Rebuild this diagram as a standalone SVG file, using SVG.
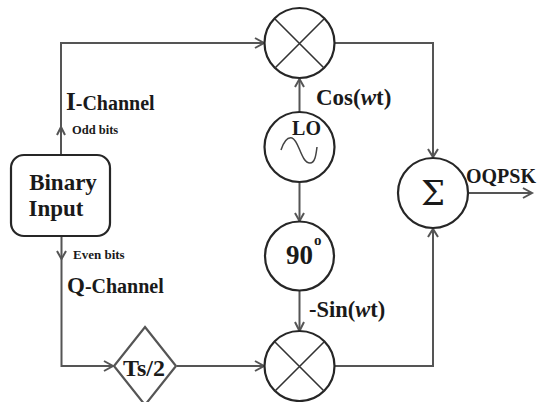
<svg xmlns="http://www.w3.org/2000/svg" width="542" height="402" viewBox="0 0 542 402">
<style>
.n{fill:#fff;stroke:#262626;stroke-width:2.2}
.x{fill:none;stroke:#333;stroke-width:1.6}
.c{fill:none;stroke:#555;stroke-width:2}
.h{fill:none;stroke:#555;stroke-width:2}
text{font-family:"Liberation Serif","Times New Roman",serif;font-weight:bold;fill:#1a1a1a}
</style>
<rect width="542" height="402" fill="#fff"/>
<g id="connectors">
<path class="c" d="M61 154V43H263"/><path class="h" d="M57 135L61 127L65 135M255 38L264 43L255 48"/>
<path class="c" d="M61.500 236V366H112"/><path class="h" d="M57 251L61.500 259L66 251M104 361L113 366L104 371"/>
<path class="c" d="M177 366H263"/><path class="h" d="M255 361L264 366L255 371"/>
<path class="c" d="M299.500 112V79"/><path class="h" d="M295 87L299.500 79L304 87"/>
<path class="c" d="M299.500 182V221"/><path class="h" d="M295 213L299.500 221L304 213"/>
<path class="c" d="M299.500 290V330"/><path class="h" d="M295 322L299.500 331L304 322"/>
<path class="c" d="M335 43H433V157"/><path class="h" d="M428 149L433 157L438 149"/>
<path class="c" d="M335 366H433V229"/><path class="h" d="M428 237L433 229L438 237"/>
<path class="c" d="M468 193H532"/><path class="h" d="M523 188L532 193L523 198"/>
</g>
<g id="mixer-top"><circle class="n" cx="299.500" cy="43" r="35"/><path class="x" d="M275 19L324 68M324 19L275 68"/></g>
<g id="mixer-bottom"><circle class="n" cx="299.500" cy="366" r="35"/><path class="x" d="M275 342L324 391M324 342L275 391"/></g>
<g id="lo"><circle class="n" cx="299.500" cy="147" r="35"/><text x="306.500" y="135" font-size="20" text-anchor="middle">LO</text><path d="M281 150C284 141 288 137 292 138C299 140 301 163 310 163C315 163 316 155 317 147" fill="none" stroke="#444" stroke-width="1.500"/></g>
<g id="phase"><circle class="n" cx="299.500" cy="256" r="34.500"/><text x="299.500" y="264" font-size="27" text-anchor="middle">90</text><text x="314" y="245" font-size="15">o</text></g>
<g id="sum"><circle class="n" cx="433" cy="193" r="35"/><text x="433" y="205" text-anchor="middle" style="font-weight:normal;font-family:'DejaVu Serif',serif;font-size:34px">Σ</text></g>
<g id="binary-input"><rect class="n" x="11" y="155" width="99" height="81" rx="13"/><text x="63" y="190" font-size="23" text-anchor="middle">Binary</text><text x="56" y="216" font-size="23" text-anchor="middle">Input</text></g>
<g id="delay"><path class="n" style="stroke:#555" d="M145 327L176 366L145 405L114 366Z"/><text x="144" y="376" font-size="24" text-anchor="middle">Ts/2</text></g>
<g id="labels">
<text x="66" y="110" font-size="25">I<tspan font-size="20">-Channel</tspan></text>
<text x="72" y="134" font-size="12.500">Odd bits</text>
<text x="73" y="259" font-size="13">Even bits</text>
<text x="67" y="293" font-size="23">Q<tspan font-size="20">-Channel</tspan></text>
<text x="316" y="105" font-size="23">Cos(<tspan font-style="italic">w</tspan>t)</text>
<text x="309" y="317" font-size="22.500">-Sin(<tspan font-style="italic">w</tspan>t)</text>
<text x="466" y="183" font-size="20">OQPSK</text>
</g>
</svg>
